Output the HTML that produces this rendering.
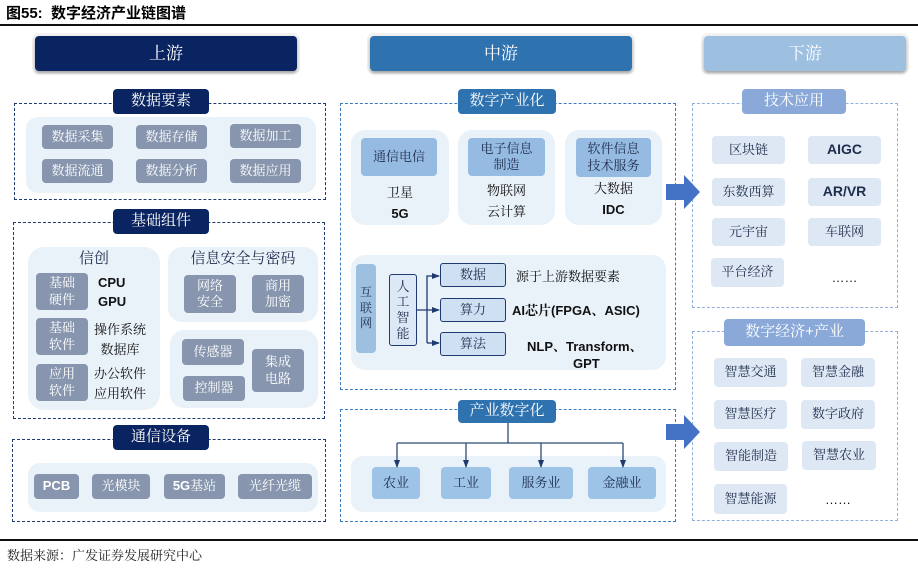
<!DOCTYPE html>
<html><head><meta charset="utf-8"><style>
body{margin:0;width:918px;height:572px;background:#fff;position:relative;overflow:hidden;font-family:"Liberation Sans","Noto Serif CJK SC","Noto Sans CJK SC",sans-serif;}
div{position:absolute;box-sizing:border-box;}
.c{display:flex;align-items:center;justify-content:center;text-align:center;line-height:1.25;}
.hd{color:#fff;font-size:17px;border-radius:4px;box-shadow:0 2px 3px rgba(0,0,0,.35),0 0 0 3px #f2f2f2;}
.lab{color:#fff;font-size:15px;border-radius:4px;}
.dl{border:1.5px dashed #1f3a6e;}
.dm{border:1.5px dashed #3a7bbf;}
.dr{border:1.5px dashed #8fb0dc;}
.pn{background:#e9f1f9;border-radius:12px;}
.g{background:#8796ae;color:#fff;font-size:13px;border-radius:4px;}
.t{font-size:13px;color:#111;}
.b{font-weight:bold;}
.r{background:#dde8f4;color:#1f2d4d;font-size:13px;border-radius:4px;}
.m{background:#95bbe2;color:#1f2d4d;font-size:13px;border-radius:4px;}
</style></head><body>
<div style="left:6px;top:2px;font-size:15px;font-weight:bold;font-family:'Liberation Sans','Noto Sans CJK SC',sans-serif;">图55:&nbsp; 数字经济产业链图谱</div>
<div style="left:0;top:24px;width:918px;height:2px;background:#111"></div>

<div class="c hd" style="left:35px;top:36px;width:262px;height:35px;background:#0a2461">上游</div>
<div class="c hd" style="left:370px;top:36px;width:262px;height:35px;background:#2e72b0">中游</div>
<div class="c hd" style="left:704px;top:36px;width:202px;height:35px;background:#9dbfe0">下游</div>

<!-- left -->
<div class="dl" style="left:14px;top:103px;width:312px;height:97px"></div>
<div class="pn" style="left:26px;top:117px;width:290px;height:76px"></div>
<div class="c lab" style="left:113px;top:89px;width:96px;height:25px;background:#0a2461">数据要素</div>
<div class="c g" style="left:42px;top:125px;width:71px;height:24px">数据采集</div>
<div class="c g" style="left:136px;top:125px;width:71px;height:24px">数据存储</div>
<div class="c g" style="left:230px;top:124px;width:71px;height:24px">数据加工</div>
<div class="c g" style="left:42px;top:159px;width:71px;height:24px">数据流通</div>
<div class="c g" style="left:136px;top:159px;width:71px;height:24px">数据分析</div>
<div class="c g" style="left:230px;top:159px;width:71px;height:24px">数据应用</div>

<div class="dl" style="left:13px;top:222px;width:312px;height:197px"></div>
<div class="c lab" style="left:113px;top:209px;width:96px;height:25px;background:#0a2461">基础组件</div>
<div class="pn" style="left:28px;top:247px;width:132px;height:163px;border-radius:16px"></div>
<div class="c" style="left:28px;top:248px;width:132px;height:22px;font-size:15px;color:#1f2d4d">信创</div>
<div class="c g" style="left:36px;top:273px;width:52px;height:37px"><span>基础<br>硬件</span></div>
<div class="c g" style="left:36px;top:318px;width:52px;height:37px"><span>基础<br>软件</span></div>
<div class="c g" style="left:36px;top:364px;width:52px;height:37px"><span>应用<br>软件</span></div>
<div class="t b" style="left:98px;top:273px;line-height:19px">CPU<br>GPU</div>
<div class="t" style="left:94px;top:320px;line-height:20px;text-align:center">操作系统<br>数据库</div>
<div class="t" style="left:94px;top:364px;line-height:20px">办公软件<br>应用软件</div>
<div class="pn" style="left:168px;top:247px;width:150px;height:75px;border-radius:14px"></div>
<div class="c" style="left:168px;top:248px;width:150px;height:22px;font-size:15px;color:#1f2d4d">信息安全与密码</div>
<div class="c g" style="left:184px;top:275px;width:52px;height:38px"><span>网络<br>安全</span></div>
<div class="c g" style="left:252px;top:275px;width:52px;height:38px"><span>商用<br>加密</span></div>
<div class="pn" style="left:170px;top:330px;width:148px;height:78px;border-radius:14px"></div>
<div class="c g" style="left:182px;top:339px;width:62px;height:26px">传感器</div>
<div class="c g" style="left:183px;top:376px;width:62px;height:25px">控制器</div>
<div class="c g" style="left:252px;top:349px;width:52px;height:43px"><span>集成<br>电路</span></div>

<div class="dl" style="left:12px;top:439px;width:314px;height:83px"></div>
<div class="c lab" style="left:113px;top:425px;width:96px;height:25px;background:#0a2461">通信设备</div>
<div class="pn" style="left:28px;top:463px;width:290px;height:49px"></div>
<div class="c g b" style="left:34px;top:474px;width:45px;height:25px">PCB</div>
<div class="c g" style="left:92px;top:474px;width:58px;height:25px">光模块</div>
<div class="c g" style="left:164px;top:474px;width:61px;height:25px"><span><b>5G</b>基站</span></div>
<div class="c g" style="left:238px;top:474px;width:74px;height:25px">光纤光缆</div>

<!-- middle -->
<div class="dm" style="left:340px;top:103px;width:336px;height:287px"></div>
<div class="c lab" style="left:458px;top:89px;width:98px;height:25px;background:#2e72b0">数字产业化</div>
<div class="pn" style="left:351px;top:130px;width:98px;height:95px;border-radius:14px"></div>
<div class="pn" style="left:458px;top:130px;width:97px;height:95px;border-radius:14px"></div>
<div class="pn" style="left:565px;top:130px;width:97px;height:95px;border-radius:14px"></div>
<div class="c m" style="left:361px;top:138px;width:76px;height:38px">通信电信</div>
<div class="c m" style="left:468px;top:138px;width:77px;height:38px"><span>电子信息<br>制造</span></div>
<div class="c m" style="left:576px;top:138px;width:75px;height:39px"><span>软件信息<br>技术服务</span></div>
<div class="c t" style="left:351px;top:182px;width:98px;height:42px;line-height:21px"><span>卫星<br><b>5G</b></span></div>
<div class="c t" style="left:458px;top:181px;width:97px;height:40px;line-height:21px"><span>物联网<br>云计算</span></div>
<div class="c t" style="left:565px;top:179px;width:97px;height:40px;line-height:21px"><span>大数据<br><b>IDC</b></span></div>
<div class="pn" style="left:351px;top:255px;width:315px;height:115px;border-radius:14px"></div>
<div class="c m" style="left:356px;top:264px;width:20px;height:89px;font-size:12px;background:#9dbfe0;line-height:1.3"><span>互<br>联<br>网</span></div>
<div class="c" style="left:389px;top:274px;width:28px;height:72px;border:1.5px solid #1f3a6e;background:#dce8f5;border-radius:3px;font-size:13px;color:#1f2d4d;line-height:1.2"><span>人<br>工<br>智<br>能</span></div>
<div class="c" style="left:440px;top:263px;width:66px;height:24px;border:1.5px solid #1f3a6e;background:#cfe0f2;border-radius:3px;font-size:13px;color:#1f2d4d">数据</div>
<div class="c" style="left:440px;top:298px;width:66px;height:24px;border:1.5px solid #1f3a6e;background:#cfe0f2;border-radius:3px;font-size:13px;color:#1f2d4d">算力</div>
<div class="c" style="left:440px;top:332px;width:66px;height:24px;border:1.5px solid #1f3a6e;background:#cfe0f2;border-radius:3px;font-size:13px;color:#1f2d4d">算法</div>
<div class="t" style="left:516px;top:266px">源于上游数据要素</div>
<div class="t b" style="left:512px;top:300px">AI芯片(FPGA、ASIC)</div>
<div class="t b" style="left:527px;top:336px">NLP、Transform、</div>
<div class="t b" style="left:573px;top:356px">GPT</div>

<div class="dm" style="left:340px;top:409px;width:336px;height:113px"></div>
<div class="c lab" style="left:458px;top:400px;width:98px;height:23px;background:#2e72b0">产业数字化</div>
<div class="pn" style="left:351px;top:456px;width:315px;height:56px"></div>
<div class="c m" style="left:372px;top:467px;width:48px;height:32px;background:#9dc3e6">农业</div>
<div class="c m" style="left:441px;top:467px;width:50px;height:32px;background:#9dc3e6">工业</div>
<div class="c m" style="left:509px;top:467px;width:64px;height:32px;background:#9dc3e6">服务业</div>
<div class="c m" style="left:588px;top:467px;width:68px;height:32px;background:#9dc3e6">金融业</div>

<!-- right -->
<div class="dr" style="left:692px;top:103px;width:206px;height:205px"></div>
<div class="c lab" style="left:742px;top:89px;width:104px;height:25px;background:#8ba9d8">技术应用</div>
<div class="c r" style="left:712px;top:136px;width:73px;height:28px">区块链</div>
<div class="c r b" style="left:808px;top:136px;width:73px;height:28px;font-size:14px">AIGC</div>
<div class="c r" style="left:712px;top:178px;width:73px;height:28px">东数西算</div>
<div class="c r b" style="left:808px;top:178px;width:73px;height:28px;font-size:14px">AR/VR</div>
<div class="c r" style="left:712px;top:218px;width:73px;height:28px">元宇宙</div>
<div class="c r" style="left:808px;top:218px;width:73px;height:28px">车联网</div>
<div class="c r" style="left:711px;top:258px;width:73px;height:29px">平台经济</div>
<div class="c t" style="left:808px;top:268px;width:73px;height:20px">……</div>

<div class="dr" style="left:692px;top:331px;width:206px;height:190px"></div>
<div class="c lab" style="left:724px;top:319px;width:141px;height:27px;background:#8ba9d8">数字经济+产业</div>
<div class="c r" style="left:714px;top:358px;width:73px;height:29px">智慧交通</div>
<div class="c r" style="left:801px;top:358px;width:74px;height:29px">智慧金融</div>
<div class="c r" style="left:714px;top:400px;width:73px;height:29px">智慧医疗</div>
<div class="c r" style="left:801px;top:400px;width:74px;height:29px">数字政府</div>
<div class="c r" style="left:714px;top:442px;width:74px;height:29px">智能制造</div>
<div class="c r" style="left:802px;top:441px;width:74px;height:29px">智慧农业</div>
<div class="c r" style="left:714px;top:484px;width:73px;height:30px">智慧能源</div>
<div class="c t" style="left:801px;top:490px;width:74px;height:20px">……</div>

<div style="left:0;top:539px;width:918px;height:1.5px;background:#111"></div>
<div style="left:7px;top:545px;font-size:13px;color:#222">数据来源：广发证券发展研究中心</div>

<svg style="position:absolute;left:0;top:0" width="918" height="572">
<defs><marker id="a" markerWidth="8" markerHeight="8" refX="7" refY="4" orient="auto" markerUnits="userSpaceOnUse"><path d="M0,1 L8,4 L0,7z" fill="#1f3a6e"/></marker></defs>
<g stroke="#1f3a6e" stroke-width="1.3" fill="none">
<line x1="417" y1="310" x2="439" y2="310" marker-end="url(#a)"/>
<polyline points="427,343 427,276 439,276" marker-end="url(#a)"/>
<polyline points="427,343 439,343" marker-end="url(#a)"/>
</g>
<g stroke="#2c4a78" stroke-width="1.3" fill="none">
<line x1="508" y1="423" x2="508" y2="443"/>
<line x1="397" y1="443" x2="623" y2="443"/>
<line x1="397" y1="443" x2="397" y2="467" marker-end="url(#a)"/>
<line x1="466" y1="443" x2="466" y2="467" marker-end="url(#a)"/>
<line x1="541" y1="443" x2="541" y2="467" marker-end="url(#a)"/>
<line x1="623" y1="443" x2="623" y2="467" marker-end="url(#a)"/>
</g>
<path d="M666,184 h18 v-9 l16,17 l-16,17 v-9 h-18z" fill="#4472c4"/>
<path d="M666,424 h18 v-9 l16,17 l-16,17 v-9 h-18z" fill="#4472c4"/>
</svg>
</body></html>
